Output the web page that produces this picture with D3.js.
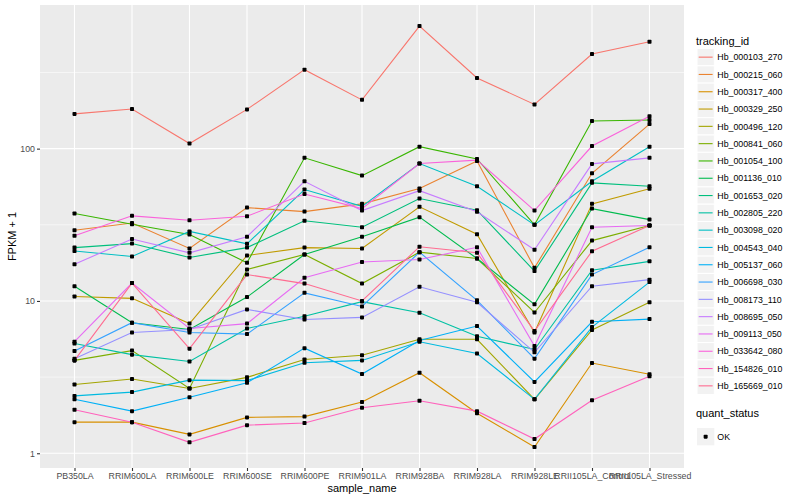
<!DOCTYPE html>
<html>
<head>
<meta charset="utf-8">
<script src="https://cdn.jsdelivr.net/npm/d3@7"></script>
<style>
	body { margin: 0; background: #fff; }
	text { font-family: "Liberation Sans", Arial, sans-serif; }
</style>
</head>
<body>
<div id="chart"></div>
<script>
// x categories
const sampleNames = ["PB350LA", "RRIM600LA", "RRIM600LE", "RRIM600SE", "RRIM600PE", "RRIM901LA",
	"RRIM928BA", "RRIM928LA", "RRIM928LE", "RRII105LA_Control", "RRII105LA_Stressed"];

// FPKM + 1 per tracking id, one value per sample
const hb_000103_270 = [169, 182, 108, 181, 330, 209, 638, 291, 195, 418, 503];
const hb_000215_060 = [29.1, 32.5, 22.1, 41, 38.6, 43.4, 54.7, 83, 16.5, 68.9, 145];
const hb_000317_400 = [1.6, 1.6, 1.33, 1.72, 1.74, 2.17, 3.38, 1.83, 1.1, 3.91, 3.3];
const hb_000329_250 = [10.7, 10.4, 7.1, 19.9, 22.4, 22.1, 41.5, 27.4, 6.2, 43.4, 54.5];
const hb_000496_120 = [2.83, 3.07, 2.66, 3.15, 4.13, 4.4, 5.6, 5.6, 2.26, 6.45, 9.8];
const hb_000841_060 = [4.07, 4.72, 2.66, 16.1, 20.2, 13, 20.9, 19, 8.4, 24.9, 31.3];
const hb_001054_100 = [37.5, 31.9, 27.3, 17.8, 87, 66.5, 103, 85.6, 31.6, 152, 154];
const hb_001136_010 = [12.5, 7.2, 6.5, 10.6, 20.2, 26.4, 35.5, 19, 9.5, 40.4, 34.2];
const hb_001653_020 = [22.4, 23.8, 19.3, 22.4, 33.6, 30.5, 47, 39.4, 15.7, 59.6, 56.6];
const hb_002805_220 = [5.25, 4.44, 4.0, 6.6, 7.93, 9.9, 8.37, 5.87, 4.8, 15.9, 18.2];
const hb_003098_020 = [21.3, 19.6, 28.6, 23.7, 53.9, 41.8, 79.8, 56.6, 31.6, 61, 103];
const hb_004543_040 = [2.38, 2.52, 3.02, 3.0, 3.93, 4.07, 5.4, 4.52, 2.26, 6.74, 13.3];
const hb_005137_060 = [2.26, 1.89, 2.33, 2.9, 4.9, 3.31, 5.5, 6.84, 2.94, 7.3, 7.6];
const hb_006698_030 = [4.69, 7.2, 6.2, 6.06, 11.3, 9.2, 20.9, 10.1, 4.18, 14.9, 22.5];
const hb_008173_110 = [4.17, 6.2, 6.5, 8.8, 7.56, 7.8, 12.4, 9.8, 4.6, 12.5, 13.8];
const hb_008695_050 = [17.4, 25.5, 20.7, 26.4, 61, 39.2, 53, 38.5, 21.7, 79.4, 87];
const hb_009113_050 = [5.4, 13.1, 6.6, 7.1, 14.2, 18, 18.7, 22.5, 5.06, 30.5, 31.3];
const hb_033642_080 = [26.8, 36.2, 33.9, 36, 50.4, 40.4, 79.8, 84, 39.2, 104, 163];
const hb_154826_010 = [1.93, 1.6, 1.18, 1.53, 1.58, 1.99, 2.21, 1.89, 1.24, 2.23, 3.2];
const hb_165669_010 = [4.07, 13.1, 4.86, 14.9, 13, 10, 22.7, 20.7, 6.34, 21.2, 31.3];

const trackingIds = ["Hb_000103_270", "Hb_000215_060", "Hb_000317_400", "Hb_000329_250", "Hb_000496_120",
	"Hb_000841_060", "Hb_001054_100", "Hb_001136_010", "Hb_001653_020", "Hb_002805_220",
	"Hb_003098_020", "Hb_004543_040", "Hb_005137_060", "Hb_006698_030", "Hb_008173_110",
	"Hb_008695_050", "Hb_009113_050", "Hb_033642_080", "Hb_154826_010", "Hb_165669_010"];
const seriesValues = [hb_000103_270, hb_000215_060, hb_000317_400, hb_000329_250, hb_000496_120,
	hb_000841_060, hb_001054_100, hb_001136_010, hb_001653_020, hb_002805_220,
	hb_003098_020, hb_004543_040, hb_005137_060, hb_006698_030, hb_008173_110,
	hb_008695_050, hb_009113_050, hb_033642_080, hb_154826_010, hb_165669_010];

const yTicks = [1, 10, 100];
const yMinor = [Math.sqrt(10), Math.sqrt(1000), Math.sqrt(100000)];

// ggplot hue palette, 20 levels
const palette = ["#F8766D", "#EA8331", "#D89000", "#C09B00", "#A3A500", "#7CAE00", "#39B600",
	"#00BB4E", "#00BF7D", "#00C1A3", "#00BFC4", "#00BAE0", "#00B0F6", "#35A2FF", "#9590FF",
	"#C77CFF", "#E76BF3", "#FA62DB", "#FF62BC", "#FF6C91"];

const series = trackingIds.map((id, i) => ({
	id: id,
	values: seriesValues[i].map((v, j) => ({ sample: sampleNames[j], value: v }))
}));

const width = 800, height = 500;
const panel = { left: 40, top: 5, right: 684, bottom: 468 };

const svg = d3.select("#chart")
	.append("svg")
	.attr("width", width)
	.attr("height", height);

// scales
const x = d3.scalePoint()
	.domain(sampleNames)
	.range([panel.left, panel.right])
	.padding(0.6);

const allVals = seriesValues.flat();
const lo = Math.log10(d3.min(allVals)), hi = Math.log10(d3.max(allVals));
const pad = (hi - lo) * 0.05;
const y = d3.scaleLog()
	.domain([Math.pow(10, lo - pad), Math.pow(10, hi + pad)])
	.range([panel.bottom, panel.top]);

const color = d3.scaleOrdinal().domain(trackingIds).range(palette);

// panel background + grid
svg.append("rect")
	.attr("x", panel.left).attr("y", panel.top)
	.attr("width", panel.right - panel.left).attr("height", panel.bottom - panel.top)
	.attr("fill", "#EBEBEB");

svg.selectAll(".minor")
	.data(yMinor)
	.enter().append("line")
	.attr("x1", panel.left).attr("x2", panel.right)
	.attr("y1", d => y(d)).attr("y2", d => y(d))
	.attr("stroke", "#fff").attr("stroke-width", 0.55);

svg.selectAll(".major-y")
	.data(yTicks)
	.enter().append("line")
	.attr("x1", panel.left).attr("x2", panel.right)
	.attr("y1", d => y(d)).attr("y2", d => y(d))
	.attr("stroke", "#fff").attr("stroke-width", 1.1);

svg.selectAll(".major-x")
	.data(sampleNames)
	.enter().append("line")
	.attr("x1", d => x(d)).attr("x2", d => x(d))
	.attr("y1", panel.top).attr("y2", panel.bottom)
	.attr("stroke", "#fff").attr("stroke-width", 1.1);

// axes
const xAxis = svg.append("g")
	.attr("transform", `translate(0,${panel.bottom})`)
	.call(d3.axisBottom(x).tickSize(3).tickPadding(2));
const yAxis = svg.append("g")
	.attr("transform", `translate(${panel.left},0)`)
	.call(d3.axisLeft(y).tickValues(yTicks).tickFormat(d3.format("d")).tickSize(3).tickPadding(2));

[xAxis, yAxis].forEach(g => {
	g.select(".domain").remove();
	g.selectAll(".tick line").attr("stroke", "#333333").attr("stroke-width", 1.1);
	g.selectAll(".tick text")
		.attr("fill", "#4D4D4D")
		.style("font-size", "8.8px")
		.style("font-family", "'Liberation Sans', Arial, sans-serif");
});

// lines
const line = d3.line()
	.x(d => x(d.sample))
	.y(d => y(d.value));

svg.append("g")
	.selectAll("path")
	.data(series)
	.enter().append("path")
	.attr("d", d => line(d.values))
	.attr("fill", "none")
	.attr("stroke", d => color(d.id))
	.attr("stroke-width", 1.1);

// points
svg.append("g")
	.selectAll("rect")
	.data(series.flatMap(s => s.values))
	.enter().append("rect")
	.attr("x", d => x(d.sample) - 2)
	.attr("y", d => y(d.value) - 2)
	.attr("width", 4).attr("height", 4)
	.attr("rx", 0.8)
	.attr("fill", "#000");

// axis titles
svg.append("text")
	.attr("x", (panel.left + panel.right) / 2)
	.attr("y", 492)
	.attr("text-anchor", "middle")
	.style("font-size", "11px")
	.text("sample_name");

svg.append("text")
	.attr("transform", `translate(16,${(panel.top + panel.bottom) / 2}) rotate(-90)`)
	.attr("text-anchor", "middle")
	.style("font-size", "11px")
	.text("FPKM + 1");

// legend: tracking_id
const legend = svg.append("g");
const keyX = 697, keyTop = 48.5, keyH = 17.3;

legend.append("text")
	.attr("x", 696).attr("y", 44.5)
	.style("font-size", "11px")
	.text("tracking_id");

const items = legend.selectAll(".legend-item")
	.data(trackingIds)
	.enter().append("g")
	.attr("class", "legend-item")
	.attr("transform", (d, i) => `translate(${keyX},${keyTop + i * keyH})`);

items.append("rect")
	.attr("width", keyH).attr("height", keyH)
	.attr("fill", "#F2F2F2")
	.attr("stroke", "#fff").attr("stroke-width", 1);

items.append("line")
	.attr("x1", 1.7).attr("x2", keyH - 1.7)
	.attr("y1", keyH / 2).attr("y2", keyH / 2)
	.attr("stroke", d => color(d))
	.attr("stroke-width", 1.1);

items.append("text")
	.attr("x", keyH + 3)
	.attr("y", keyH / 2 + 3.2)
	.style("font-size", "8.8px")
	.text(d => d);

// legend: quant_status
legend.append("text")
	.attr("x", 696).attr("y", 417)
	.style("font-size", "11px")
	.text("quant_status");

const ok = legend.append("g")
	.attr("transform", `translate(${keyX},${428})`);
ok.append("rect")
	.attr("width", keyH).attr("height", keyH)
	.attr("fill", "#F2F2F2");
ok.append("rect")
	.attr("x", keyH / 2 - 2).attr("y", keyH / 2 - 2)
	.attr("width", 4).attr("height", 4)
	.attr("rx", 0.8)
	.attr("fill", "#000");
ok.append("text")
	.attr("x", keyH + 3)
	.attr("y", keyH / 2 + 3.2)
	.style("font-size", "8.8px")
	.text("OK");
</script>
</body>
</html>
